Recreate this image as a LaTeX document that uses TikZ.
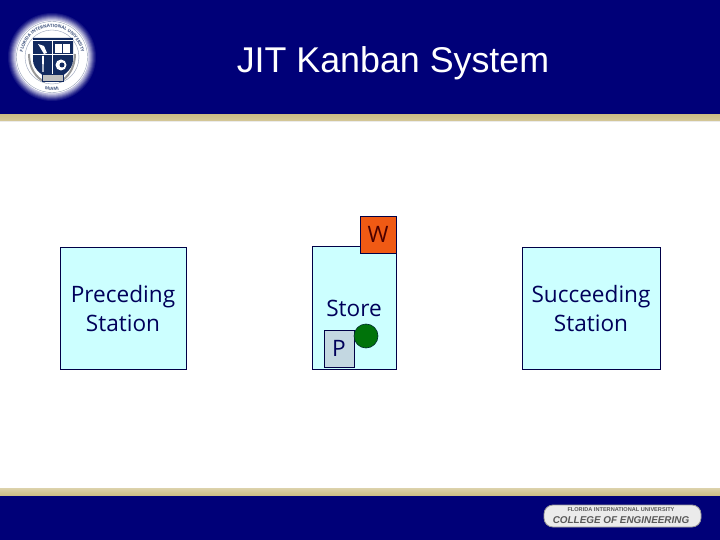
\documentclass[tikz,border=0pt]{standalone}
\usepackage{fontspec}
\setmainfont{Open Sans}
\newfontfamily\arialf{Liberation Sans}
\usetikzlibrary{decorations.text}
\definecolor{navy}{RGB}{0,0,120}
\definecolor{bandgold}{RGB}{205,190,135}
\definecolor{boxfill}{RGB}{204,255,255}
\definecolor{boxline}{RGB}{0,0,70}
\definecolor{txt}{RGB}{0,0,90}
\definecolor{wfill}{RGB}{240,90,20}
\definecolor{pfill}{RGB}{195,215,225}
\definecolor{dot}{RGB}{0,115,10}
\definecolor{shield}{RGB}{18,42,95}
\tikzset{
 station/.style={draw=boxline,line width=.8pt,fill=boxfill,inner sep=0pt},
 boxlabel/.style={text=txt,align=center,inner sep=0pt,font=\fontsize{22.6}{29}\selectfont},
}
\begin{document}
\begin{tikzpicture}[x=1pt,y=-1pt]
\useasboundingbox (0,0) rectangle (720,540);
\fill[white] (0,0) rectangle (720,540);
% header
\fill[navy] (0,0) rectangle (720,115);
\shade[top color=bandgold,bottom color=bandgold!85!white] (0,115) rectangle (720,121);
\fill[black!8] (0,121) rectangle (720,122);
% footer
\fill[navy] (0,495) rectangle (720,540);
\shade[top color=bandgold!70!white,bottom color=bandgold] (0,488) rectangle (720,495);
% title
\node[text=white,font=\arialf\fontsize{35.8}{40}\selectfont,inner sep=0pt] (title) at (393,63) {JIT Kanban System};
% seal glow
\foreach \r/\c in {44/8,43/16,42/26,41/38,40/50,39/62,38/74}{
  \fill[white!\c!navy] (52,57) circle (\r);
}
\fill[white] (52,57) circle (36.5);
\draw[shield!45,line width=.4pt] (52,57) circle (35.5);
\draw[shield!45,line width=.4pt] (52,57) circle (27);
\path[decorate,decoration={text along path,text align=center,text={|\fontsize{4.4}{5}\selectfont\bfseries\color{shield!80}|FLORIDA INTERNATIONAL UNIVERSITY}}]
  (52,57) ++(155:29.5) arc[start angle=155,end angle=385,radius=29.5];
\path[decorate,decoration={text along path,text align=center,text={|\fontsize{4.4}{5}\selectfont\bfseries\color{shield!80}|MIAMI}}]
  (52,57) ++(125:33.5) arc[start angle=125,end angle=55,radius=33.5];
% laurel
\draw[black!40,line width=2pt] (29,54) .. controls (29,68) and (36,78) .. (45,82);
\draw[black!40,line width=2pt] (75,54) .. controls (75,68) and (68,78) .. (59,82);
% shield
\fill[shield] (33,38) -- (73,38) -- (73,60) .. controls (73,70) and (62,77) .. (53,81) .. controls (44,77) and (33,70) .. (33,60) -- cycle;
\draw[white,line width=1pt] (52,41) -- (52,78) (33,55) -- (73,55) (33,41) -- (73,41);
\fill[white] (55,44) rectangle (70,53);
\draw[shield,line width=.6pt] (62.5,44) -- (62.5,53);
\fill[white] (38,44) -- (44,46) -- (47,53) -- (44,54) -- cycle;
\fill[white] (42,56) -- (44,56) -- (43.5,72) -- (42.5,72) -- cycle;
\fill[white] (61,65) circle (5.5);
\fill[shield] (62,65) circle (2.5);
\fill[black!25] (42,74) rectangle (63,81);
\draw[shield,line width=.5pt] (42,74) rectangle (63,81);
% stations
\node[station,minimum width=126pt,minimum height=122pt] (prec) at (123,308) {};
\node[boxlabel] (preclabel) at (123,309) {Preceding\\Station};
\node[station,minimum width=84pt,minimum height=123pt] (store) at (354.5,307.5) {};
\node[boxlabel] (storelabel) at (354,308) {Store};
\node[station,minimum width=138pt,minimum height=122pt] (succ) at (591,308) {};
\node[boxlabel] (succlabel) at (591,309) {Succeeding\\Station};
\node[draw=boxline,line width=.8pt,fill=wfill,minimum width=36pt,minimum height=37pt,inner sep=0pt,text=black!70!red,font=\fontsize{22.6}{29}\selectfont] (w) at (378,234.5) {W};
\node[draw=boxline,line width=.8pt,fill=pfill,minimum width=30pt,minimum height=37pt,inner sep=0pt,text=txt,font=\fontsize{22.6}{29}\selectfont] (p) at (339,348.5) {P};
\node[circle,draw=boxline!60!dot,line width=.6pt,fill=dot,minimum size=24pt,inner sep=0pt] (circ) at (366,336) {};
% footer badge
\node[draw=black!40,line width=.8pt,fill=white!92!black,rounded corners=9pt,minimum width=157pt,minimum height=22pt,inner sep=0pt] (badge) at (622.5,516) {};
\node[font=\arialf\fontsize{5.6}{6}\selectfont\bfseries,text=black!65,inner sep=0pt] (badgetop) at (621,510) {FLORIDA INTERNATIONAL UNIVERSITY};
\node[font=\arialf\fontsize{9.9}{10}\selectfont\bfseries\itshape,text=black!65,inner sep=0pt] (badgemain) at (621,520) {COLLEGE OF ENGINEERING};
\end{tikzpicture}
\end{document}
